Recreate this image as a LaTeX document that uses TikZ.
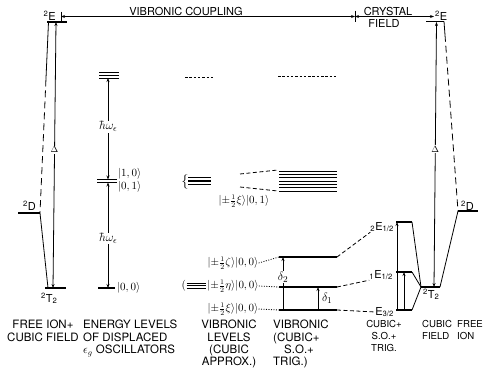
\documentclass[tikz,border=0pt]{standalone}
\usepackage{amsmath}
\usepackage{fontspec}
\setsansfont{TeX Gyre Heros}
\usepackage{tikz}
\usetikzlibrary{positioning,arrows.meta,calc}
\tikzset{
  >={Stealth[length=4pt,width=3pt]},
  every node/.style={font=\sffamily},
  % --- levels and ties
  lvl/.style      = {line width=1.2pt},
  tline/.style    = {line width=0.8pt},
  tiedash/.style  = {tline, dash pattern=on 4pt off 2.5pt},
  longdash/.style = {tline, dash pattern=on 7pt off 4pt},
  shortdash/.style= {tline, dash pattern=on 2.5pt off 1.8pt},
  lead/.style     = {tline, dash pattern=on 1pt off 1.5pt},
  gap/.style      = {fill=white, inner sep=0.8pt},
  % --- texts
  term/.style  = {font=\sffamily\fontsize{11}{12}\selectfont, inner sep=0pt},
  ket/.style   = {font=\fontsize{10.5}{11}\selectfont, inner sep=0pt},
  sket/.style  = {font=\fontsize{11}{12}\selectfont, inner sep=0pt},
  quant/.style = {gap, font=\fontsize{13}{13}\selectfont},
  colcap/.style= {font=\sffamily\fontsize{11.5}{12.3}\selectfont, inner sep=0pt,
                  anchor=north, align=center},
  narrowcap/.style={colcap, font=\sffamily\fontsize{9.6}{12.3}\selectfont},
}
\newcommand{\halfket}[1]{|{\pm}\tfrac{1}{2}#1\rangle}

\begin{document}
\begin{tikzpicture}[x=1pt,y=-1pt]
  \useasboundingbox (0,0) rectangle (492,383);

  % --- free ion + cubic field (left)
  \coordinate (eL1) at (47,22);  \coordinate (eL2) at (67,22);
  \coordinate (dL1) at (18,213); \coordinate (dL2) at (40,213);
  \coordinate (tL1) at (45,288); \coordinate (tL2) at (66,288);
  \coordinate (eLt) at (48.5,22); \coordinate (tLt) at (48,288);
  \coordinate (eLd) at ($(eLt)!0.3!(dL2)$);
  \draw[lvl] (eL1) -- (eL2);
  \draw[lvl] (dL1) -- (dL2);
  \draw[lvl] (tL1) -- (tL2);
  \draw[tline] (eLt) -- (eLd);
  \draw[longdash] (eLd) -- (dL2);
  \draw[tline] (dL2) -- (tLt);
  \coordinate (aL1) at (56,22); \coordinate (aL2) at (53,288);
  \draw[tline,<->] (aL1) -- node[gap,pos=0.48,font=\fontsize{9}{9}\selectfont] (dltL) {$\Delta$} (aL2);
  \node[term,anchor=base east] (lEL) at (56,20.5) {\textsuperscript{2}E};
  \node[term,anchor=base east] (lDL) at (36,210) {\textsuperscript{2}D};
  \node[term,anchor=base west] (lTL) at (41,302) {\textsuperscript{2}T\textsubscript{2}};

  % --- coupling spans (top)
  \coordinate (vc1) at (61,16.5); \coordinate (vc2) at (355,16.5); \coordinate (cf2) at (434,16.5);
  \draw[tline] ($(vc1)+(0,-5)$) -- ($(vc1)+(0,4)$);
  \draw[tline] ($(vc2)+(0,-6)$) -- ($(vc2)+(0,5)$);
  \draw[tline,<->] (vc1) -- (vc2);
  \draw[tline,<->] (vc2) -- (cf2);
  \node[term,anchor=base] (vcLbl) at (186,15) {VIBRONIC COUPLING};
  \node[term,anchor=base] (cfLbl) at (388,15) {CRYSTAL};
  \node[term,anchor=base] (cfLbl2) at (384,27) {FIELD};

  % --- displaced oscillators
  \foreach \y in {72.5,75.2,77.9} \draw[tline] (99,\y) -- (119,\y);
  \draw[tline] (97,179.5) -- (117,179.5);
  \draw[tline] (97,182.5) -- (117,182.5);
  \draw[lvl] (98,288) -- (115,288);
  \coordinate (oTop) at (108,78); \coordinate (o10) at (108,179.5);
  \coordinate (o01) at (108,182.5); \coordinate (o00) at (108,288);
  \draw[tline,<->] (oTop) -- node[quant,pos=0.48] (hw1) {$\hbar\omega_\epsilon$} (o10);
  \draw[tline,<->] (o01) -- node[quant,pos=0.53] (hw2) {$\hbar\omega_\epsilon$} (o00);
  \node[sket,anchor=west] (k10) at (118,174) {$|1,0\rangle$};
  \node[sket,anchor=west] (k01) at (118,187) {$|0,1\rangle$};
  \node[sket,anchor=west] (k00) at (117,288) {$|0,0\rangle$};

  % --- vibronic, cubic approx.
  \draw[shortdash] (185,77) -- (213,77);
  \foreach \y in {177.5,181,184.5} \draw[line width=1.4pt] (188,\y) -- (211,\y);
  \node[inner sep=0pt,font=\fontsize{15}{15}\selectfont] (brc) at (185,181.5) {$\{$};
  \node[ket] (kxi1) at (244,201) {$\halfket{\xi}|0,1\rangle$};
  \node[ket,anchor=east] (prn) at (186,286) {$($};
  \foreach \y in {283.6,285.8,288} \draw[tline] (186.5,\y) -- (206,\y);
  \node[ket] (kzeta) at (233,263) {$\halfket{\zeta}|0,0\rangle$};
  \node[ket] (keta) at (233,286) {$\halfket{\eta}|0,0\rangle$};
  \node[ket] (kxi0) at (233,309) {$\halfket{\xi}|0,0\rangle$};

  % --- vibronic, cubic + s.o. + trig.
  \draw[shortdash] (278,76) -- (337,76);
  \draw[tiedash] (240,174) -- (278,170);
  \draw[tiedash] (240,187) -- (278,191);
  \foreach \i in {0,...,6} \draw[tline] (279,{171+3.33*\i}) -- (337,{171+3.33*\i});
  \coordinate (vz1) at (279,257); \coordinate (vz2) at (337,257);
  \coordinate (ve1) at (279,287); \coordinate (ve2) at (337,287);
  \coordinate (vx1) at (279,310); \coordinate (vx2) at (337,310);
  \draw[lvl] (vz1) -- (vz2);
  \draw[lvl] (ve1) -- (ve2);
  \draw[lvl] (vx1) -- (vx2);
  \draw[lead] (kzeta.east) -- (vz1);
  \draw[lead] (keta.east) -- (ve1);
  \draw[lead] (kxi0.east) -- (vx1);
  \coordinate (d2a) at (283,310); \coordinate (d2b) at (283,257);
  \coordinate (d1a) at (318,310); \coordinate (d1b) at (318,287);
  \draw[tline,->] (d2a) -- node[quant,pos=0.62] (dl2) {$\delta_2$} (d2b);
  \draw[tline,->] (d1a) -- (d1b);
  \node[quant,fill=none,anchor=west] (dl1) at (321,298) {$\delta_1$};

  % --- cubic + s.o. + trig.
  \coordinate (s21) at (396,222); \coordinate (s22) at (412,222);
  \coordinate (s11) at (396,272); \coordinate (s12) at (412,272);
  \coordinate (s31) at (396,310); \coordinate (s32) at (412,310);
  \coordinate (tR1) at (421,287); \coordinate (tR2) at (440,287);
  \draw[lvl] (s21) -- (s22);
  \draw[lvl] (s11) -- (s12);
  \draw[lvl] (s31) -- (s32);
  \draw[lvl] (tR1) -- (tR2);
  \draw[tline] (s22) -- (tR1);
  \draw[tline] (s12) -- (tR1);
  \draw[tline] (s32) -- (tR1);
  \coordinate (p2a) at (397,310); \coordinate (p2b) at (397,222);
  \coordinate (p1a) at (404,310); \coordinate (p1b) at (404,272);
  \draw[tline,->] (p2a) -- (p2b);
  \draw[tline,->] (p1a) -- (p1b);
  \node[term,anchor=base east] (lE2) at (394,230) {\textsubscript{2}E\textsubscript{1/2}};
  \node[term,anchor=base east] (lE1) at (393,278) {\textsubscript{1}E\textsubscript{1/2}};
  \node[term,anchor=base east] (lE3) at (394,315) {E\textsubscript{3/2}};
  \draw[tiedash] (vz2) -- (lE2.south west);
  \draw[tiedash] (ve2) -- (lE1.south west);
  \draw[tiedash] (vx2) -- (lE3.west);

  % --- cubic field + free ion (right)
  \coordinate (eR1) at (426,21.5); \coordinate (eR2) at (444,21.5);
  \coordinate (dR1) at (458,211);  \coordinate (dR2) at (478,211);
  \coordinate (eRd) at ($(eR2)!0.07!(dR1)$);
  \draw[lvl] (eR1) -- (eR2);
  \draw[lvl] (dR1) -- (dR2);
  \draw[tline] (eR2) -- (eRd);
  \draw[longdash] (eRd) -- (dR1);
  \draw[tline] (tR2) -- (dR1);
  \coordinate (aR1) at (436.5,22); \coordinate (aR2) at (434,287);
  \draw[tline,<->] (aR1) -- node[gap,pos=0.48,font=\fontsize{9}{9}\selectfont] (dltR) {$\Delta$} (aR2);
  \node[term,anchor=base west] (lER) at (435,20) {\textsuperscript{2}E};
  \node[term,anchor=base west] (lDR) at (461,210) {\textsuperscript{2}D};
  \node[term,anchor=base west] (lTR) at (423,298) {\textsuperscript{2}T\textsubscript{2}};

  % --- column captions
  \node[colcap] (cFI) at (43,320) {FREE ION+\\CUBIC FIELD};
  \node[colcap,anchor=north west,align=left] (cOsc) at (83,320) {ENERGY LEVELS\\OF DISPLACED\\$\epsilon_g$ OSCILLATORS};
  \node[colcap] (cVC) at (229,320) {VIBRONIC\\LEVELS\\(CUBIC\\APPROX.)};
  \node[colcap,anchor=north west,align=left] (cVS) at (273,320) {VIBRONIC\\(CUBIC+\\\hspace*{11pt}S.O.+\\TRIG.)};
  \node[narrowcap] (cSO) at (384,320) {CUBIC+\\S.O.+\\TRIG.};
  \node[narrowcap,anchor=north west,align=left] (cCF) at (422,320) {CUBIC\\FIELD};
  \node[narrowcap,anchor=north west,align=left] (cFr) at (457,320) {FREE\\ION};
\end{tikzpicture}
\end{document}
